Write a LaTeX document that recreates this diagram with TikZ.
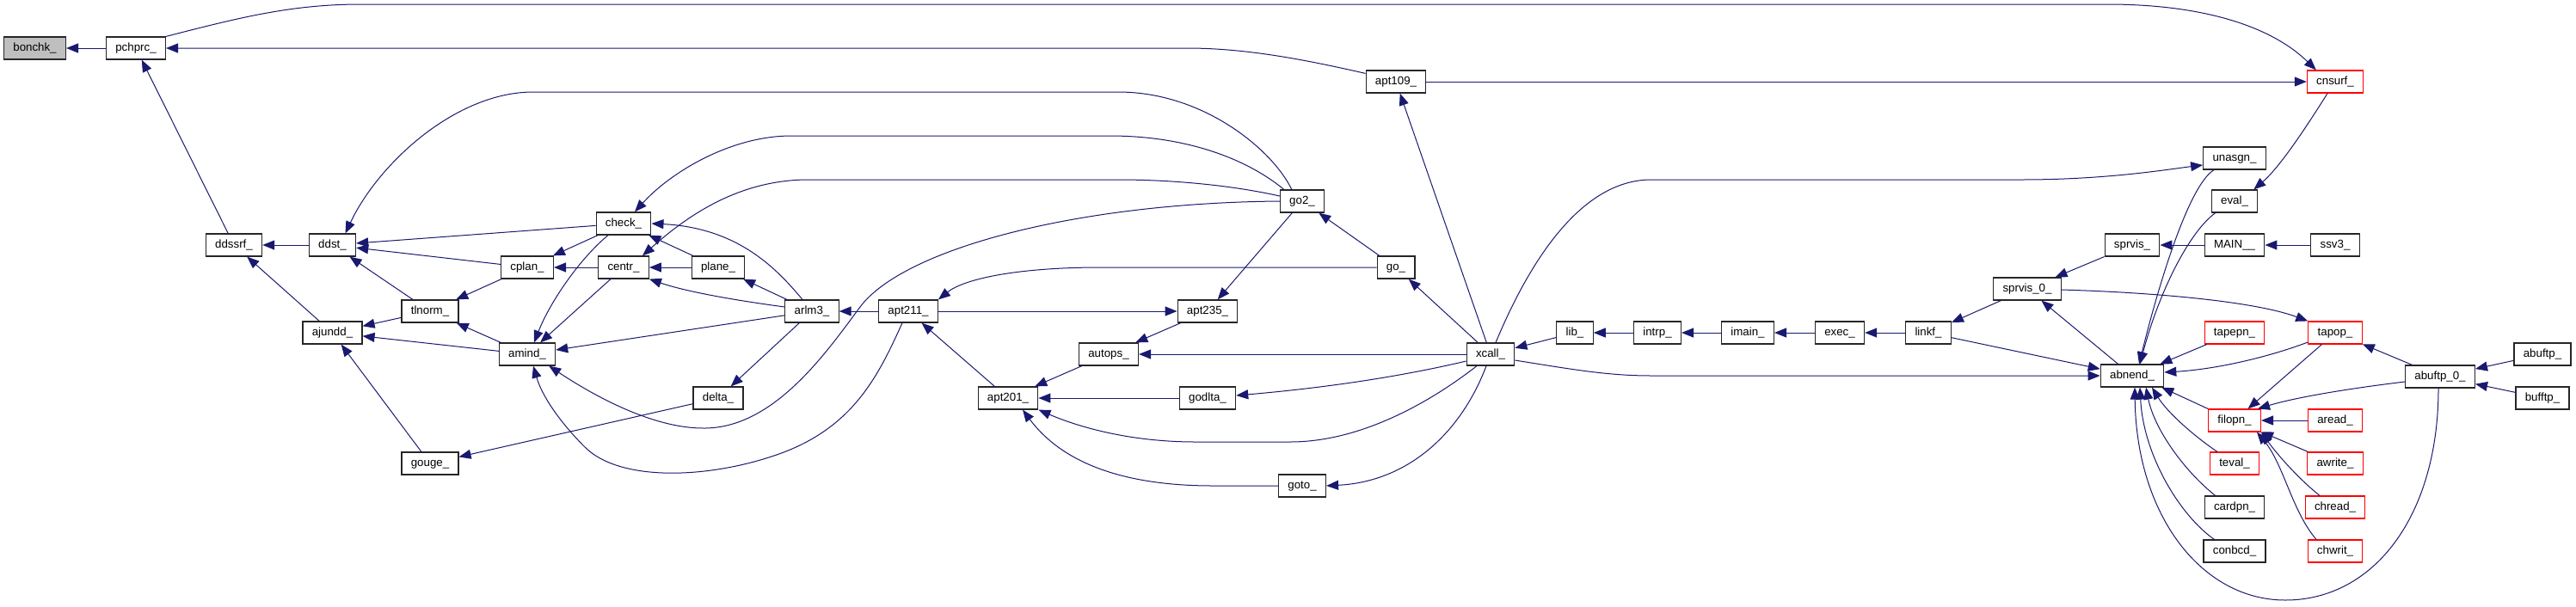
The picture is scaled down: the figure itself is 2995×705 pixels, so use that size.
\documentclass[tikz,border=0pt]{standalone}
\usepackage{fontspec}
\setmainfont{Liberation Sans}
\usetikzlibrary{arrows.meta}
\definecolor{edgeblue}{HTML}{191970}
\definecolor{grayfill}{HTML}{BFBFBF}

\begin{document}
\begin{tikzpicture}[x=1pt,y=-1pt,
    fn/.style={draw=black!85,line width=1.2pt,fill=white,minimum height=26pt,
      inner xsep=10.8pt,inner ysep=0pt,text height=10pt,text depth=3pt,
      font=\fontsize{13.3}{15}\selectfont},
    fnred/.style={fn,draw=red},
    callarr/.style={draw=edgeblue,line width=1pt,-{Triangle[length=14pt,width=11pt]}}]
    \useasboundingbox (0,0) rectangle (2995,705);

    % Функції (зліва направо)
    \node[fn,fill=grayfill] (bonchk) at (40.5,56) {bonchk\_};
    \node[fn] (pchprc) at (158,56) {pchprc\_};
    \node[fn] (ddssrf) at (272,285) {ddssrf\_};
    \node[fn] (ddst) at (386.5,285) {ddst\_};
    \node[fn] (ajundd) at (386.5,387) {ajundd\_};
    \node[fn] (tlnorm) at (500,362) {tlnorm\_};
    \node[fn] (gouge) at (500,539) {gouge\_};
    \node[fn] (check) at (725,260) {check\_};
    \node[fn] (cplan) at (613,311) {cplan\_};
    \node[fn] (centr) at (725,311) {centr\_};
    \node[fn] (plane) at (835,311) {plane\_};
    \node[fn] (arlm3) at (944,362) {arlm3\_};
    \node[fn] (amind) at (613,412) {amind\_};
    \node[fn] (delta) at (835,463) {delta\_};
    \node[fn] (apt211) at (1056,362) {apt211\_};
    \node[fn] (apt235) at (1404,362) {apt235\_};
    \node[fn] (autops) at (1289,412) {autops\_};
    \node[fn] (apt201) at (1172,463) {apt201\_};
    \node[fn] (godlta) at (1404,463) {godlta\_};
    \node[fn] (go2) at (1514,234) {go2\_};
    \node[fn] (goto) at (1514,565) {goto\_};
    \node[fn] (apt109) at (1623,95) {apt109\_};
    \node[fn] (go) at (1623,311) {go\_};
    \node[fn] (xcall) at (1733,412) {xcall\_};
    \node[fn] (lib) at (1831,387) {lib\_};
    \node[fn] (intrp) at (1927,387) {intrp\_};
    \node[fn] (imain) at (2032,387) {imain\_};
    \node[fn] (exec) at (2139,387) {exec\_};
    \node[fn] (linkf) at (2242,387) {linkf\_};
    \node[fn] (sprvis0) at (2357,336) {sprvis\_0\_};
    \node[fn] (sprvis) at (2479,285) {sprvis\_};
    \node[fn] (abnend) at (2479,437) {abnend\_};
    \node[fnred] (cnsurf) at (2715,95) {cnsurf\_};
    \node[fn] (unasgn) at (2598,184) {unasgn\_};
    \node[fn] (eval) at (2598,234) {eval\_};
    \node[fn] (MAIN) at (2598,285) {MAIN\_\_};
    \node[fn] (ssv3) at (2715,285) {ssv3\_};
    \node[fnred] (tapepn) at (2598,387) {tapepn\_};
    \node[fnred] (tapop) at (2715,387) {tapop\_};
    \node[fn] (abuftp0) at (2837,438) {abuftp\_0\_};
    \node[fn] (abuftp) at (2956,412) {abuftp\_};
    \node[fn] (bufftp) at (2956,463) {bufftp\_};
    \node[fnred] (filopn) at (2598,489) {filopn\_};
    \node[fnred] (aread) at (2715,489) {aread\_};
    \node[fnred] (teval) at (2598,539) {teval\_};
    \node[fnred] (awrite) at (2715,539) {awrite\_};
    \node[fn] (cardpn) at (2598,590) {cardpn\_};
    \node[fnred] (chread) at (2715,590) {chread\_};
    \node[fn] (conbcd) at (2598,641) {conbcd\_};
    \node[fnred] (chwrit) at (2715,641) {chwrit\_};

    % Прямі виклики
    \draw[callarr] (pchprc) -- (bonchk);
    \draw[callarr] (ddssrf) -- (pchprc);
    \draw[callarr] (apt109) -- (cnsurf);
    \draw[callarr] (xcall) -- (apt109);
    \draw[callarr] (ddst) -- (ddssrf);
    \draw[callarr] (ajundd) -- (ddssrf);
    \draw[callarr] (check) -- (ddst);
    \draw[callarr] (cplan) -- (ddst);
    \draw[callarr] (tlnorm) -- (ddst);
    \draw[callarr] (tlnorm) -- (ajundd);
    \draw[callarr] (amind) -- (ajundd);
    \draw[callarr] (gouge) -- (ajundd);
    \draw[callarr] (cplan) -- (tlnorm);
    \draw[callarr] (amind) -- (tlnorm);
    \draw[callarr] (delta) -- (gouge);
    \draw[callarr] (check) -- (cplan);
    \draw[callarr] (centr) -- (cplan);
    \draw[callarr] (centr) -- (amind);
    \draw[callarr] (arlm3) -- (amind);
    \draw[callarr] (plane) -- (check);
    \draw[callarr] (plane) -- (centr);
    \draw[callarr] (arlm3) -- (plane);
    \draw[callarr] (arlm3) -- (delta);
    \draw[callarr] (apt211) -- (arlm3);
    \draw[callarr] (apt211) -- (apt235);
    \draw[callarr] (apt201) -- (apt211);
    \draw[callarr] (apt235) -- (autops);
    \draw[callarr] (autops) -- (apt201);
    \draw[callarr] (godlta) -- (apt201);
    \draw[callarr] (xcall) -- (autops);
    \draw[callarr] (go2) -- (apt235);
    \draw[callarr] (go) -- (go2);
    \draw[callarr] (xcall) -- (go);
    \draw[callarr] (lib) -- (xcall);
    \draw[callarr] (intrp) -- (lib);
    \draw[callarr] (imain) -- (intrp);
    \draw[callarr] (exec) -- (imain);
    \draw[callarr] (linkf) -- (exec);
    \draw[callarr] (sprvis0) -- (linkf);
    \draw[callarr] (linkf) -- (abnend);
    \draw[callarr] (sprvis) -- (sprvis0);
    \draw[callarr] (abnend) -- (sprvis0);
    \draw[callarr] (MAIN) -- (sprvis);
    \draw[callarr] (ssv3) -- (MAIN);
    \draw[callarr] (tapepn) -- (abnend);
    \draw[callarr] (tapop) -- (filopn);
    \draw[callarr] (abuftp0) -- (tapop);
    \draw[callarr] (abuftp) -- (abuftp0);
    \draw[callarr] (bufftp) -- (abuftp0);
    \draw[callarr] (aread) -- (filopn);
    \draw[callarr] (awrite) -- (filopn);
    \draw[callarr] (filopn.north west) -- ([xshift=-3pt]abnend.south east);

    % Довгі дуги вгорі
    \draw[callarr] (pchprc.north east) .. controls (280,20) and (340,5) .. (420,5) -- (2450,5)
        .. controls (2560,5) and (2640,30) .. ([xshift=11pt]cnsurf.north west);
    \draw[callarr] ([yshift=-4pt]apt109.north west) .. controls (1520,70) and (1450,56) .. (1380,56) -- (pchprc.east);
    \draw[callarr] ([xshift=-9pt]cnsurf.south) .. controls (2680,150) and (2650,195) .. ([xshift=-5pt]eval.north east);
    \draw[callarr] ([xshift=6pt]xcall.north) .. controls (1780,300) and (1840,209) .. (1920,209) -- (2350,209)
        .. controls (2450,209) and (2520,197) .. ([yshift=-8pt]unasgn.west);
    \draw[callarr] ([xshift=13pt]unasgn.south west) .. controls (2545,215) and (2510,330) .. ([xshift=8pt]abnend.north);
    \draw[callarr] ([xshift=5pt]eval.south west) .. controls (2545,270) and (2510,340) .. ([xshift=9pt]abnend.north);

    % Виклики з go2_
    \draw[callarr] ([xshift=14pt]go2.north west) .. controls (1480,175) and (1400,107) .. (1300,107) -- (620,107)
        .. controls (530,107) and (440,190) .. ([xshift=15pt]ddst.north);
    \draw[callarr] ([xshift=5pt]go2.north west) .. controls (1450,185) and (1380,158) .. (1290,158) -- (920,158)
        .. controls (850,158) and (780,200) .. ([xshift=13pt]check.north);
    \draw[callarr] ([yshift=6pt]go2.west) .. controls (1430,215) and (1360,209) .. (1300,209) -- (940,209)
        .. controls (860,209) and (800,250) .. ([xshift=22pt]centr.north);
    \draw[callarr] (go2.west) .. controls (1250,236) and (1050,290) .. (1000,357)
        .. controls (960,411) and (900,497) .. (820,498) .. controls (760,499) and (690,460) .. ([xshift=-8pt]amind.south east);

    % Дуги біля amind_, check_, centr_
    \draw[callarr] ([xshift=-7pt]apt211.south) .. controls (1020,440) and (990,500) .. (900,530)
        .. controls (820,557) and (720,560) .. (680,520) .. controls (650,490) and (630,460) .. ([xshift=7pt]amind.south);
    \draw[callarr] ([xshift=-18pt]check.south) .. controls (675,300) and (640,350) .. ([xshift=8pt]amind.north);
    \draw[callarr] ([xshift=-11pt]arlm3.north) .. controls (905,315) and (860,265) .. (check.east);
    \draw[callarr] ([yshift=5pt]arlm3.west) .. controls (860,350) and (800,340) .. (centr.south east);
    \draw[callarr] (go.west) -- (1280,311) .. controls (1180,311) and (1120,325) .. (apt211.north east);

    % Виклики з xcall_
    \draw[callarr] ([yshift=-7pt]xcall.east) .. controls (1830,430) and (1870,437) .. (1920,437) -- (abnend.west);
    \draw[callarr] ([yshift=-8pt]xcall.west) .. controls (1620,440) and (1530,452) .. ([yshift=3pt]godlta.east);
    \draw[callarr] ([xshift=-16pt]xcall.south) .. controls (1660,470) and (1580,514) .. (1500,514) -- (1390,514)
        .. controls (1310,514) and (1250,495) .. (apt201.south east);
    \draw[callarr] ([xshift=-5pt]xcall.south) .. controls (1700,500) and (1640,560) .. (goto.east);
    \draw[callarr] (goto.west) -- (1410,565) .. controls (1320,565) and (1240,545) .. ([xshift=17pt]apt201.south);

    % Права частина
    \draw[callarr] ([yshift=-1pt]sprvis0.east) .. controls (2500,340) and (2620,350) .. (tapop.north west);
    \draw[callarr] ([yshift=-11pt]tapop.west) .. controls (2630,418) and (2570,430) .. ([yshift=4pt]abnend.east);
    \draw[callarr] ([yshift=-6pt]abuftp0.west) .. controls (2730,452) and (2670,462) .. ([xshift=-4pt]filopn.north east);
    \draw[callarr] ([xshift=-2pt]abuftp0.south) .. controls (2835,600) and (2760,698) .. (2657,698)
        .. controls (2560,698) and (2484,600) .. ([xshift=3pt]abnend.south);
    \draw[callarr] ([xshift=13pt]conbcd.north west) .. controls (2535,600) and (2492,530) .. ([xshift=9pt]abnend.south);
    \draw[callarr] ([xshift=13pt]cardpn.north west) .. controls (2540,548) and (2505,500) .. ([xshift=16pt]abnend.south);
    \draw[callarr] ([xshift=9pt]teval.north west) .. controls (2552,508) and (2520,480) .. ([xshift=23pt]abnend.south);
    \draw[callarr] ([xshift=-18pt]chread.north) .. controls (2670,555) and (2645,525) .. (filopn.south east);
    \draw[callarr] ([xshift=-22pt]chwrit.north) .. controls (2665,595) and (2655,540) .. ([xshift=-5pt]filopn.south east);
\end{tikzpicture}
\end{document}
